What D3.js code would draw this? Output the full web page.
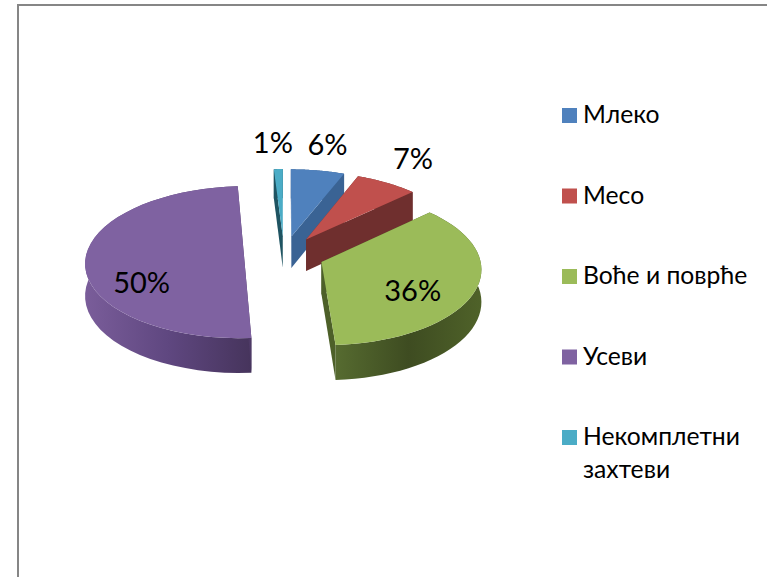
<!DOCTYPE html>
<html><head><meta charset="utf-8">
<script src="https://cdn.jsdelivr.net/npm/d3@7"></script>
<style>html,body{margin:0;padding:0;background:#fff;overflow:hidden}svg{display:block}text{font-family:Lato,"Open Sans",sans-serif;fill:#000}</style>
</head><body><script>
const categories = ["Млеко","Месо","Воће и поврће","Усеви","Некомплетни захтеви"];
const values = [6,7,36,50,1];
const labels = ["6%","7%","36%","50%","1%"];
const colors = ["#4f81bd","#c0504d","#9bbb59","#7f62a1","#4bacc6"];
const faceColors = ["#3a6394","#6f2f2e","#4d6029","#4e3a66","#1f5462"];
const wallStops = [["#3a6394","#3a6394"],["#6f2f2e","#6f2f2e"],["#566b30","#3e4c21","#4f6229"],["#7a5d9a","#5f4780","#46345c"],["#1f5462","#1f5462"]];
const drawOrder = [4,0,1,3,2];
const W=767,H=577,cx=284,cy=255,R=158,explode=40,depth=32,tilt=.477,persp=.0005;
const svg=d3.select("body").append("svg").attr("width",W).attr("height",H);
const color=d3.scaleOrdinal(d3.range(values.length),colors);
const pieData=d3.pie().sort(null).value(d=>d)(values);
function project(X,Y,z=0){const s=1/(1+persp*Y);return [cx+X*s,cy-Y*tilt*s+z*s];}
const line=d3.line();
const defs=svg.append("defs");
function model(d,a,r){const m=(d.startAngle+d.endAngle)/2;
  return [explode*Math.sin(m)+r*Math.sin(a),explode*Math.cos(m)+r*Math.cos(a)];}
// frame
svg.append("path").attr("d",line([[18,H],[18,5],[W,5]])).attr("fill","none").attr("stroke","#868686").attr("stroke-width",2);
drawOrder.forEach(i=>{
  const d=pieData[i],g=svg.append("g");
  const angs=d3.range(0,41).map(t=>d.startAngle+(d.endAngle-d.startAngle)*t/40);
  const top=angs.map(a=>project(...model(d,a,R)));
  const bot=angs.map(a=>project(...model(d,a,R),depth));
  const ap=project(...model(d,0,0)),apB=project(...model(d,0,0),depth);
  const id="w"+i,xs=top.map(p=>p[0]);
  const gr=defs.append("linearGradient").attr("id",id).attr("gradientUnits","userSpaceOnUse")
    .attr("x1",d3.min(xs)).attr("x2",d3.max(xs)).attr("y1",0).attr("y2",0);
  wallStops[i].forEach((c,k,a)=>gr.append("stop").attr("offset",a.length>1?k/(a.length-1):0).attr("stop-color",c));
  g.append("path").attr("d",line([...top,...bot.slice().reverse()])+"Z").attr("fill",`url(#${id})`);
  [0,top.length-1].forEach(e=>{
    g.append("path").attr("d",line([ap,top[e],bot[e],apB])+"Z").attr("fill",faceColors[i]);
  });
  g.append("path").attr("d",line([ap,...top])+"Z").attr("fill",color(i));
});
// data labels: radius along the bisector + nudge
const labelRadius=[215,205,95,95,215];
const labelNudge=[[1,-3],[4,-7],[0,13],[-7,25],[-4,-3]];
pieData.forEach((d,i)=>{
  const m=(d.startAngle+d.endAngle)/2,p=project(...model(d,m,labelRadius[i]));
  svg.append("text").attr("class","lab").attr("x",p[0]+labelNudge[i][0]).attr("y",p[1]+labelNudge[i][1]+9)
    .attr("text-anchor","middle").attr("font-size",29).text(labels[i]);
});
// legend
const ly=d3.scaleLinear().domain([0,4]).range([108,430]);
categories.forEach((c,i)=>{
  const y=ly(i);
  svg.append("rect").attr("x",562).attr("y",y).attr("width",15).attr("height",15).attr("fill",color(i));
  const words=i===4?c.split(" "):[c];
  words.forEach((w,k)=>svg.append("text").attr("x",583).attr("y",y+15+k*33).attr("font-size",24.7).text(w));
});
</script></body></html>
